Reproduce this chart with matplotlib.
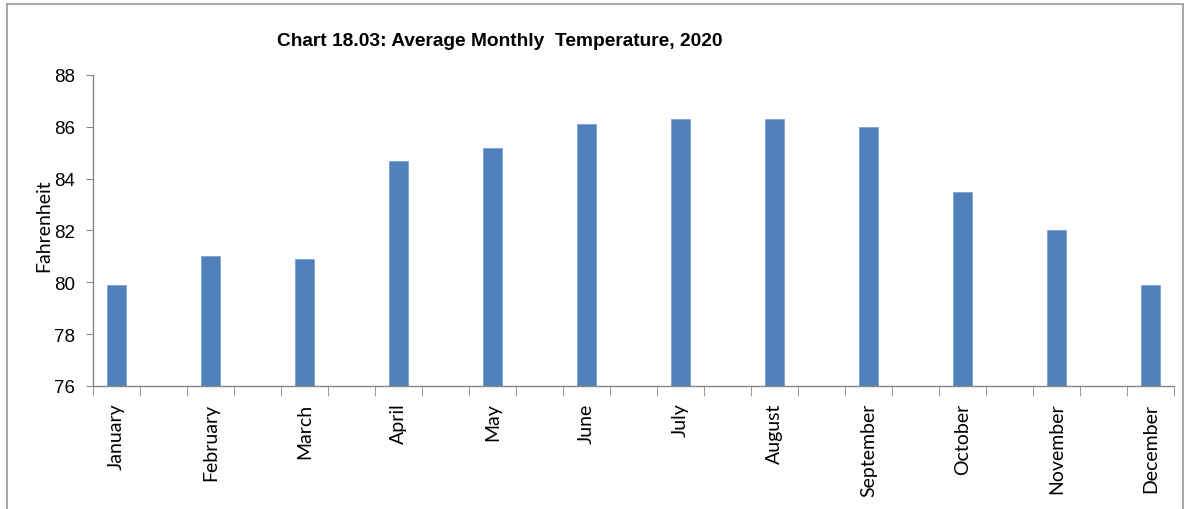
import matplotlib.pyplot as plt
from matplotlib.lines import Line2D

months = ['January', 'February', 'March', 'April', 'May', 'June', 'July',
          'August', 'September', 'October', 'November', 'December']
temps = [79.9, 81.0, 80.9, 84.7, 85.2, 86.1, 86.3, 86.3, 86.0, 83.5, 82.0, 79.9]
yticks = [76, 78, 80, 82, 84, 86, 88]

fig = plt.figure(figsize=(11.89, 5.10), dpi=100)
ax = fig.add_axes([0.0782, 0.2412, 0.9092, 0.6098])

# months sit on every other slot, empty slots in between
xpos = [2 * i for i in range(len(months))]
ax.bar(xpos, [t - 76 for t in temps], bottom=76, width=0.42,
       color='#4F81BD', edgecolor='#7BA0D0', linewidth=0.6)

ax.set_xlim(-0.5, 2 * len(months) - 1.5)
ax.set_ylim(76, 88)
ax.set_yticks(yticks)
ax.set_yticklabels([str(v) for v in yticks], family='Liberation Sans', fontsize=13.5)
ax.tick_params(axis='y', length=5, color='#888888', pad=8)

ax.set_xticks(xpos)
ax.set_xticklabels(months, rotation=90, family='Lato', fontsize=14, va='top')
ax.tick_params(axis='x', which='major', length=0, pad=12)
ax.set_xticks([x - 0.5 for x in range(2 * len(months))], minor=True)
ax.tick_params(axis='x', which='minor', length=7, color='#888888', direction='out')

for s in ['top', 'right']:
    ax.spines[s].set_visible(False)
for s in ['left', 'bottom']:
    ax.spines[s].set_color('#888888')
    ax.spines[s].set_linewidth(1)

ax.set_ylabel('Fahrenheit', family='Lato', fontsize=14)
ax.yaxis.set_label_coords(-0.038, 0.52)

fig.text(0.4205, 0.918, 'Chart 18.03: Average Monthly  Temperature, 2020',
         family=['Liberation Sans Narrow', 'Liberation Sans'], fontsize=13.8,
         fontweight='bold', ha='center', va='center')

# outer frame
for xs, ys in [([0.006, 0.006], [0.0, 0.99]), ([0.006, 0.995], [0.99, 0.99]),
               ([0.995, 0.995], [0.0, 0.99])]:
    fig.add_artist(Line2D(xs, ys, transform=fig.transFigure, color='#999999', lw=1.2))

fig.savefig('out.png', dpi=100)
